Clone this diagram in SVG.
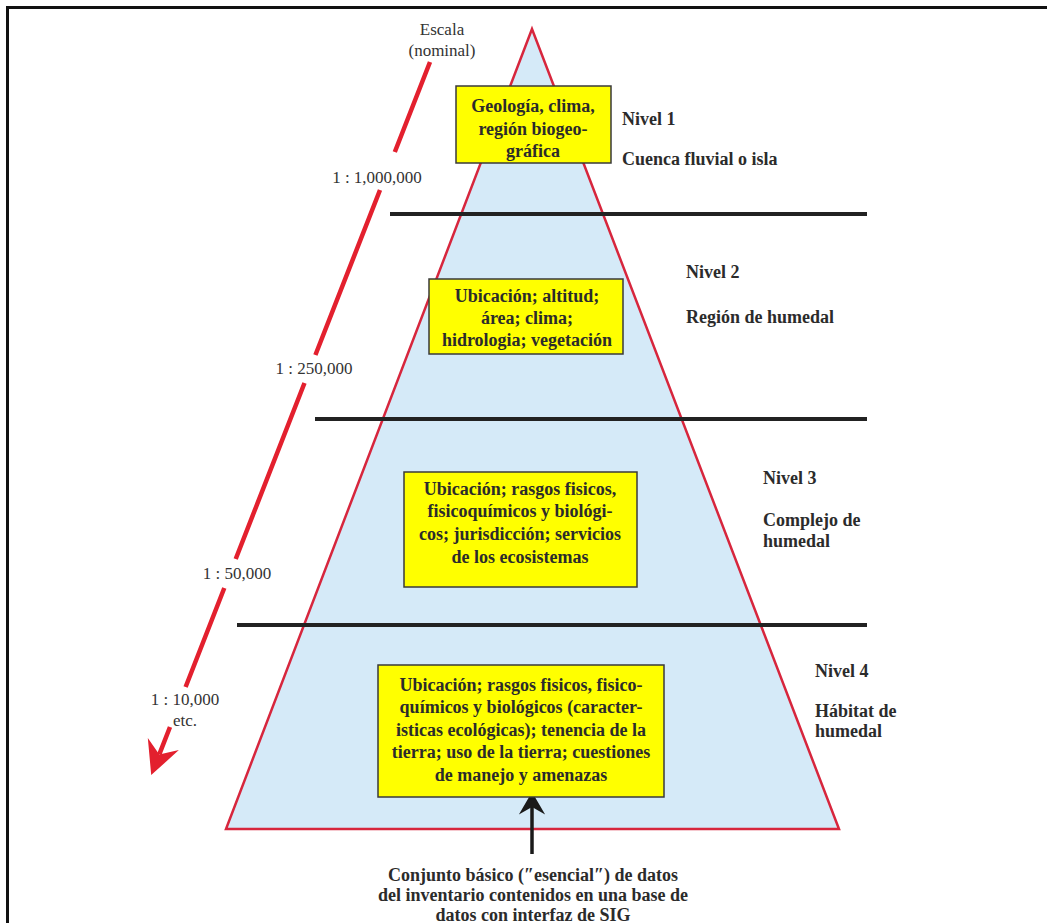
<svg xmlns="http://www.w3.org/2000/svg" width="1047" height="923" viewBox="0 0 1047 923">
  <style>
    .bx { fill: #ffff00; stroke: #3a3a3a; stroke-width: 1.5; }
    .bt { font-family: "Liberation Serif", "Times New Roman", serif; font-weight: bold; font-size: 18px; fill: #2b2b2b; text-anchor: middle; }
    .lb { font-family: "Liberation Serif", "Times New Roman", serif; font-weight: bold; font-size: 18px; fill: #2b2b2b; }
    .sc { font-family: "Liberation Serif", "Times New Roman", serif; font-size: 17px; fill: #333333; text-anchor: middle; }
    .div { stroke: #222222; stroke-width: 4; fill: none; }
  </style>
  <defs>
    <marker id="redHead" markerUnits="userSpaceOnUse" markerWidth="40" markerHeight="40" viewBox="-32 -18 34 36" refX="-20" refY="0" orient="auto">
      <path d="M0,0 L-30,-15 L-20,0 L-30,15 Z" fill="#e3202e"/>
    </marker>
    <marker id="blackHead" markerUnits="userSpaceOnUse" markerWidth="30" markerHeight="30" viewBox="-20 -12 22 24" refX="-12" refY="0" orient="auto">
      <path d="M0,0 L-18,-10.5 L-12,0 L-18,10.5 Z" fill="#1a1a1a"/>
    </marker>
  </defs>
  <rect x="0" y="0" width="1047" height="923" fill="#ffffff"/>
  <rect x="7.5" y="7.5" width="1100" height="1000" fill="none" stroke="#111111" stroke-width="3"/>

  <g id="pyramid">
    <polygon points="532,29 226,829 839,829" fill="#d5eaf8" stroke="#d7263d" stroke-width="2.5" stroke-linejoin="miter"/>
  </g>

  <g id="dividers">
    <line class="div" x1="390" y1="214" x2="867" y2="214"/>
    <line class="div" x1="315" y1="419" x2="867" y2="419"/>
    <line class="div" x1="237" y1="625" x2="867" y2="625"/>
  </g>

  <g id="connectors">
    <path d="M430,62 L394.8,152 M380,190 L315.4,355 M304.5,383 L235.7,559 M224.3,588 L185.6,687 M170,727 L159.3,754.4" fill="none" stroke="#e3202e" stroke-width="4.5" marker-end="url(#redHead)"/>
    <line x1="532" y1="854" x2="532" y2="807" stroke="#1a1a1a" stroke-width="3.5" marker-end="url(#blackHead)"/>
  </g>

  <g id="scale-labels">
    <text class="sc" x="442" y="35">Escala</text>
    <text class="sc" x="442" y="56">(nominal)</text>
    <text class="sc" x="377" y="183">1 : 1,000,000</text>
    <text class="sc" x="314" y="374">1 : 250,000</text>
    <text class="sc" x="237" y="579">1 : 50,000</text>
    <text class="sc" x="185" y="705">1 : 10,000</text>
    <text class="sc" x="185" y="726">etc.</text>
  </g>

  <g id="box1">
    <rect class="bx" x="456" y="86" width="155" height="77"/>
    <text class="bt" x="533" y="112">Geología, clima,</text>
    <text class="bt" x="533" y="134.5">región biogeo-</text>
    <text class="bt" x="533" y="157">gráfica</text>
  </g>

  <g id="box2">
    <rect class="bx" x="429" y="279" width="194" height="75"/>
    <text class="bt" x="527" y="302">Ubicación; altitud;</text>
    <text class="bt" x="527" y="324">área; clima;</text>
    <text class="bt" x="527" y="346">hidrologia; vegetación</text>
  </g>

  <g id="box3">
    <rect class="bx" x="404" y="472" width="233" height="115"/>
    <text class="bt" x="520" y="495">Ubicación; rasgos fisicos,</text>
    <text class="bt" x="520" y="517">fisicoquímicos y biológi-</text>
    <text class="bt" x="520" y="540">cos; jurisdicción; servicios</text>
    <text class="bt" x="520" y="563">de los ecosistemas</text>
  </g>

  <g id="box4">
    <rect class="bx" x="378" y="665" width="286" height="132"/>
    <text class="bt" x="521" y="691">Ubicación; rasgos fisicos, fisico-</text>
    <text class="bt" x="521" y="713">químicos y biológicos (caracter-</text>
    <text class="bt" x="521" y="736">isticas ecológicas); tenencia de la</text>
    <text class="bt" x="521" y="758">tierra; uso de la tierra; cuestiones</text>
    <text class="bt" x="521" y="781">de manejo y amenazas</text>
  </g>

  <g id="level1">
    <text class="lb" x="622" y="125">Nivel 1</text>
    <text class="lb" x="622" y="165">Cuenca fluvial o isla</text>
  </g>
  <g id="level2">
    <text class="lb" x="686" y="278">Nivel 2</text>
    <text class="lb" x="686" y="323">Región de humedal</text>
  </g>
  <g id="level3">
    <text class="lb" x="763" y="484">Nivel 3</text>
    <text class="lb" x="763" y="526">Complejo de</text>
    <text class="lb" x="763" y="547">humedal</text>
  </g>
  <g id="level4">
    <text class="lb" x="815" y="677">Nivel 4</text>
    <text class="lb" x="815" y="717">Hábitat de</text>
    <text class="lb" x="815" y="737">humedal</text>
  </g>

  <g id="footnote">
    <text class="bt" x="533" y="881">Conjunto básico (″esencial″) de datos</text>
    <text class="bt" x="533" y="901">del inventario contenidos en una base de</text>
    <text class="bt" x="533" y="921">datos con interfaz de SIG</text>
  </g>
</svg>
